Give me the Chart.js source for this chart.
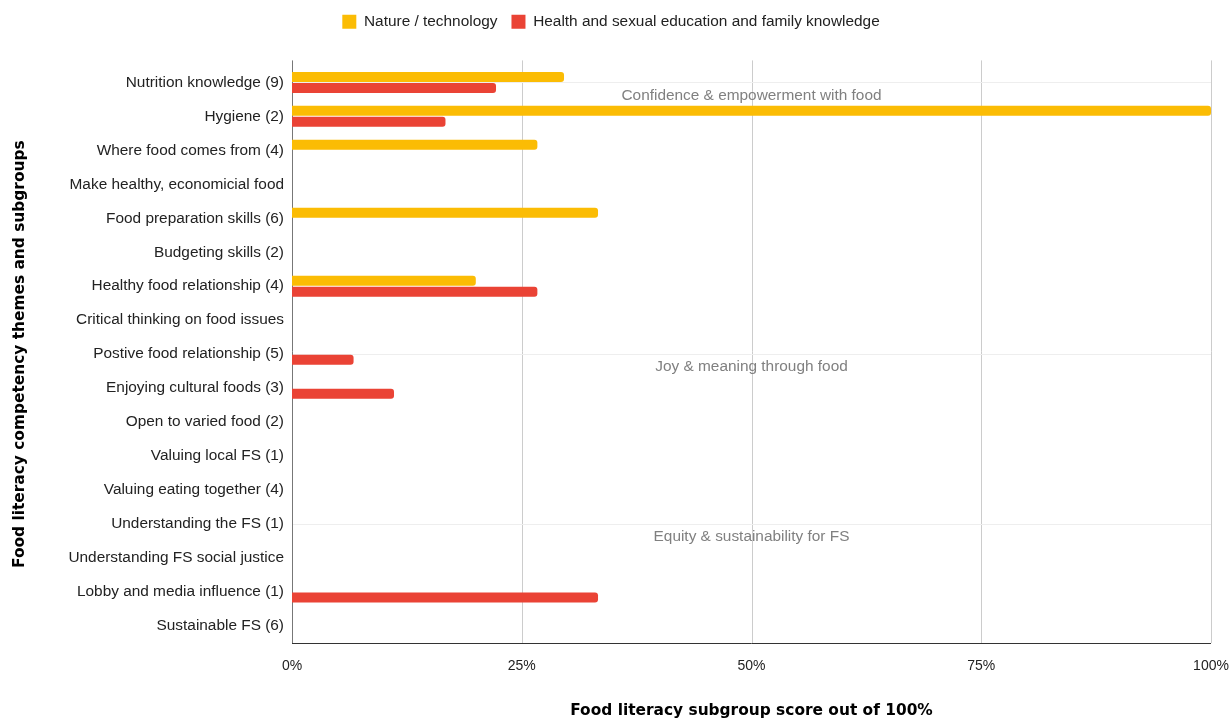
<!DOCTYPE html>
<html>
<head>
<meta charset="utf-8">
<script src="https://cdn.jsdelivr.net/npm/chart.js@4.4.1/dist/chart.umd.min.js"></script>
<style>
  html, body { margin: 0; padding: 0; background: #fff; }
  #wrap { width: 1230px; height: 720px; }
</style>
</head>
<body>
<div id="wrap"><canvas id="chart"></canvas></div>
<script>
// Subgroups, top to bottom
const subgroups = [
    'Nutrition knowledge (9)', 'Hygiene (2)', 'Where food comes from (4)',
    'Make healthy, economicial food', 'Food preparation skills (6)', 'Budgeting skills (2)',
    'Healthy food relationship (4)', 'Critical thinking on food issues',
    'Postive food relationship (5)', 'Enjoying cultural foods (3)', 'Open to varied food (2)',
    'Valuing local FS (1)', 'Valuing eating together (4)', 'Understanding the FS (1)',
    'Understanding FS social justice', 'Lobby and media influence (1)', 'Sustainable FS (6)'
];

// Scores in percent
const natureTech = [29.6, 100, 26.7, null, 33.3, null, 20, null, null, null, null, null, null, null, null, null, null];
const healthFamily = [22.2, 16.7, null, null, null, null, 26.7, null, 6.7, 11.1, null, null, null, null, null, 33.3, null];

// Theme headings and the subgroup where each one starts
const themes = ['Confidence & empowerment with food', 'Joy & meaning through food', 'Equity & sustainability for FS'];
const themeStart = [0, 8, 13];

const xTicks = [0, 25, 50, 75, 100];

const FONT = '"Liberation Sans", Arial, sans-serif';
const TITLE_FONT = '"DejaVu Sans", Verdana, sans-serif';
const LABEL_SIZE = 15.4;

// grid lines and theme separators, drawn under the bars
const themePlugin = {
    id: 'themes',
    beforeDatasetsDraw(chart) {
        const { ctx, chartArea, scales } = chart;
        const topY = chartArea.top - 5;
        ctx.save();
        ctx.lineWidth = 1;
        ctx.strokeStyle = '#cccccc';
        xTicks.slice(1).forEach(v => {
            const x = Math.round(scales.x.getPixelForValue(v)) + 0.5;
            ctx.beginPath();
            ctx.moveTo(x, topY);
            ctx.lineTo(x, chartArea.bottom);
            ctx.stroke();
        });
        ctx.strokeStyle = '#eeeeee';
        themeStart.forEach(i => {
            const y = Math.round(scales.y.getPixelForValue(i)) + 0.5;
            ctx.beginPath();
            ctx.moveTo(chartArea.left, y);
            ctx.lineTo(chartArea.right, y);
            ctx.stroke();
        });
        ctx.fillStyle = '#808080';
        ctx.font = LABEL_SIZE + 'px ' + FONT;
        ctx.textAlign = 'center';
        ctx.textBaseline = 'middle';
        const cx = scales.x.getPixelForValue(50);
        themes.forEach((t, k) => {
            const y = scales.y.getPixelForValue(themeStart[k]);
            ctx.fillText(t, cx, y + 13);
        });
        // axis lines
        ctx.strokeStyle = '#777777';
        const x0 = Math.round(scales.x.getPixelForValue(0)) + 0.5;
        ctx.beginPath();
        ctx.moveTo(x0, topY);
        ctx.lineTo(x0, chartArea.bottom);
        ctx.stroke();
        ctx.strokeStyle = '#333333';
        const yb = Math.round(chartArea.bottom) + 0.5;
        ctx.beginPath();
        ctx.moveTo(chartArea.left, yb);
        ctx.lineTo(chartArea.right, yb);
        ctx.stroke();
        ctx.restore();
    }
};

// leave extra room under the legend
const legendGap = {
    id: 'legendGap',
    beforeInit(chart) {
        const fit = chart.legend.fit;
        chart.legend.fit = function () {
            fit.bind(chart.legend)();
            this.height += 26;
        };
    }
};

new Chart(document.getElementById('chart'), {
    type: 'bar',
    data: {
        labels: subgroups,
        datasets: [{
            label: 'Nature / technology',
            data: natureTech,
            backgroundColor: '#fbbc04',
            borderRadius: 3
        }, {
            label: 'Health and sexual education and family knowledge',
            data: healthFamily,
            backgroundColor: '#ea4335',
            borderRadius: 3
        }]
    },
    options: {
        indexAxis: 'y',
        responsive: true,
        maintainAspectRatio: false,
        animation: false,
        categoryPercentage: 22 / 34,
        barPercentage: 10 / 11,
        layout: { padding: { top: 0, right: 19, bottom: 0, left: 11 } },
        scales: {
            x: {
                min: 0,
                max: 100,
                afterBuildTicks: scale => { scale.ticks = xTicks.map(v => ({ value: v })); },
                afterFit: scale => {
                    scale.height = 77;
                    scale.paddingRight = 0;
                    scale.paddingLeft = 0;
                },
                grid: { display: false, drawTicks: false },
                border: { display: false },
                ticks: {
                    padding: 15,
                    color: '#222',
                    font: { family: FONT, size: 14 },
                    callback: v => v + '%'
                },
                title: {
                    display: true,
                    text: 'Food literacy subgroup score out of 100%',
                    color: '#000',
                    font: { family: TITLE_FONT, size: LABEL_SIZE, weight: 'bold' },
                    padding: { top: 0, bottom: 0 }
                }
            },
            y: {
                afterFit: scale => { scale.width = 281; },
                grid: { display: false, drawTicks: false },
                border: { display: false },
                ticks: {
                    padding: 8,
                    color: '#222',
                    font: { family: FONT, size: LABEL_SIZE }
                },
                title: {
                    display: true,
                    text: 'Food literacy competency themes and subgroups',
                    color: '#000',
                    font: { family: TITLE_FONT, size: LABEL_SIZE, weight: 'bold' },
                    padding: { top: 0, bottom: 0 }
                }
            }
        },
        plugins: {
            legend: {
                position: 'top',
                labels: {
                    boxWidth: 14,
                    boxHeight: 14,
                    padding: 14,
                    color: '#222',
                    font: { family: FONT, size: LABEL_SIZE }
                }
            },
            tooltip: { enabled: false }
        }
    },
    plugins: [themePlugin, legendGap]
});
</script>
</body>
</html>
